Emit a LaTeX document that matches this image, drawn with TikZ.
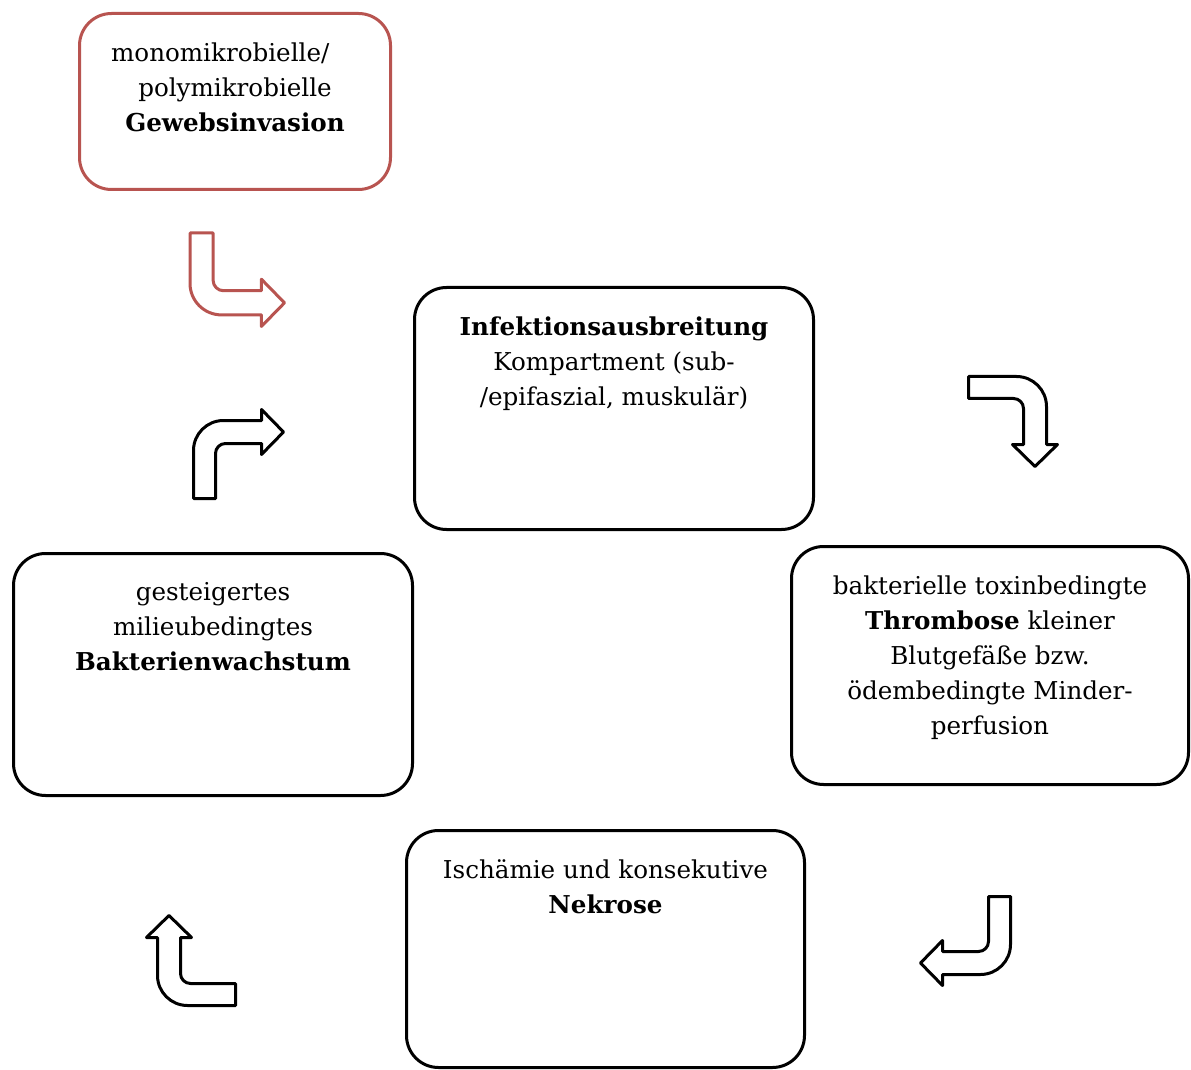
\documentclass[tikz,border=0pt]{standalone}
\usepackage{fontspec}
\setmainfont{DejaVu Serif}
\usetikzlibrary{positioning}

\definecolor{redbrown}{RGB}{184,84,80}

\tikzset{
  box/.style={draw, line width=1.5pt, rounded corners=16pt, inner sep=0pt},
  txt/.style={align=center, anchor=north, inner sep=0pt, font=\fontsize{12.3}{17.5}\selectfont},
  arrowline/.style={line width=1.5pt, line join=round, fill=white},
}

\newcommand{\bentarrow}[2]{%
  \draw[arrowline, #2, #1] (0,0) -- (22,0) -- (22,45)
    arc[start angle=180, end angle=90, radius=10] -- (68,55) -- (68,44)
    -- (90,66.5) -- (68,89) -- (68,78) -- (30,78)
    arc[start angle=90, end angle=180, radius=30] -- cycle;}

\begin{document}
\begin{tikzpicture}[x=0.5pt, y=-0.5pt]
\useasboundingbox (0,0) rectangle (1191,1070);

\node[box, draw=redbrown, minimum width=155.5pt, minimum height=88pt] (invasion) at (235,101.5) {};
\node[box, minimum width=199.5pt, minimum height=121pt] (ausbreitung) at (614,408.5) {};
\node[box, minimum width=198.5pt, minimum height=119pt] (thrombose) at (990,665.5) {};
\node[box, minimum width=199.5pt, minimum height=121pt] (wachstum) at (213,674.5) {};
\node[box, minimum width=199pt, minimum height=118.5pt] (nekrose) at (605.5,949) {};

\node[txt, below=15pt of invasion.north] (invasiontext) {monomikrobielle/\hspace*{1.2em}\\ polymikrobielle\\ \textbf{Gewebsinvasion}};
\node[txt, below=15pt of ausbreitung.north] (ausbreitungtext) {\textbf{Infektionsausbreitung}\\ Kompartment (sub-\\ /epifaszial, muskulär)};
\node[txt, below=15pt of thrombose.north] (thrombosetext) {bakterielle toxinbedingte\\ \textbf{Thrombose} kleiner\\ Blutgefäße bzw.\\ ödembedingte Minder-\\ perfusion};
\node[txt, below=15pt of wachstum.north] (wachstumtext) {gesteigertes\\ milieubedingtes\\ \textbf{Bakterienwachstum}};
\node[txt, below=15pt of nekrose.north] (nekrosetext) {Ischämie und konsekutive\\ \textbf{Nekrose}};

\bentarrow{shift={(190,233)}, scale=1.05}{draw=redbrown}
\bentarrow{shift={(968.5,376.5)}, cm={0,-1,-1,0,(0,0)}}{draw=black}
\bentarrow{shift={(1010.5,896.5)}, xscale=-1}{draw=black}
\bentarrow{shift={(235.5,1005.5)}, cm={0,1,1,0,(0,0)}}{draw=black}
\bentarrow{shift={(193.5,498.5)}, yscale=-1}{draw=black}
\end{tikzpicture}
\end{document}
